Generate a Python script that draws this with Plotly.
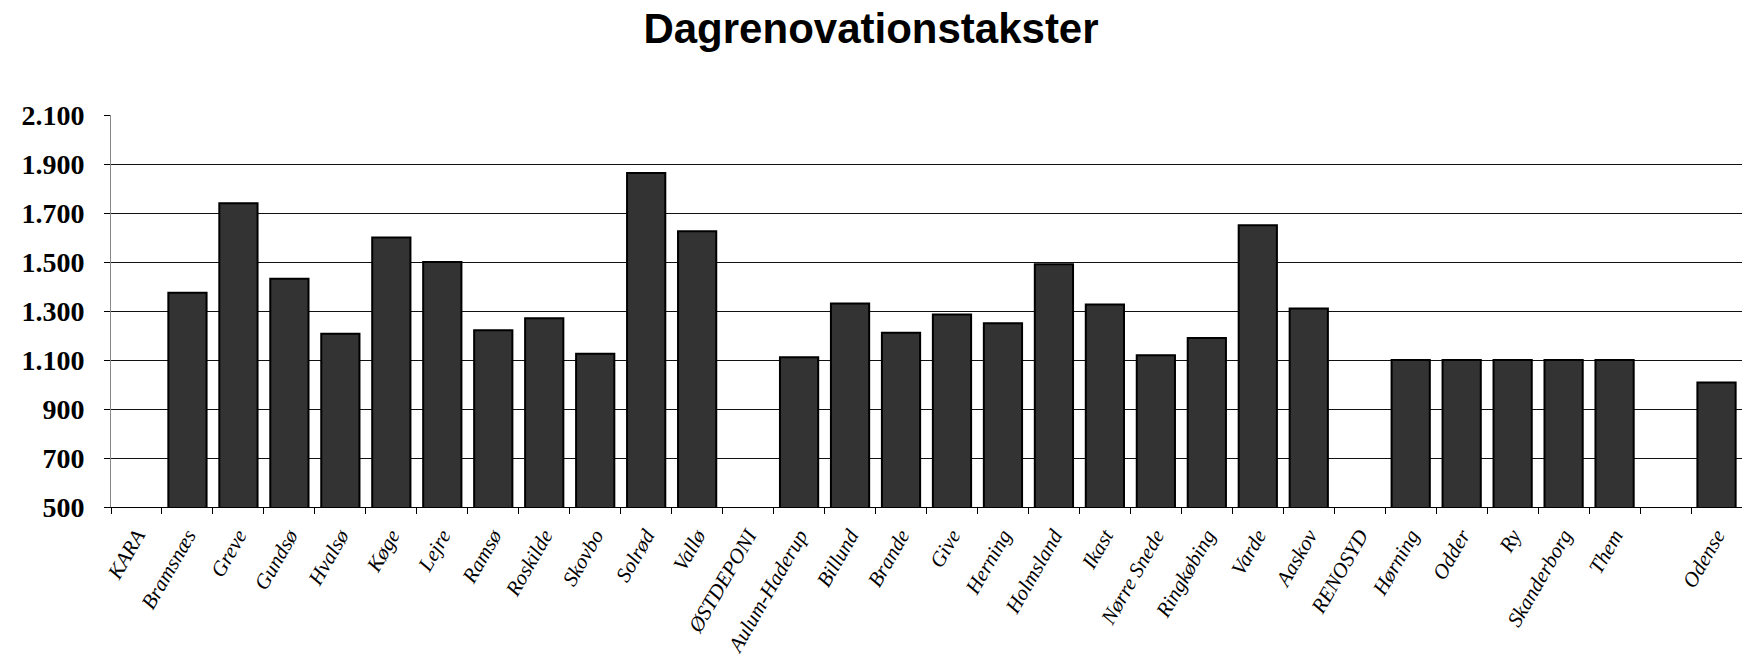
import plotly.graph_objects as go

# Renovation companies / municipalities (blank entry keeps the gap before Odense)
categories = [
    "KARA", "Bramsnæs", "Greve", "Gundsø", "Hvalsø", "Køge", "Lejre", "Ramsø",
    "Roskilde", "Skovbo", "Solrød", "Vallø", "ØSTDEPONI", "Aulum-Haderup",
    "Billund", "Brande", "Give", "Herning", "Holmsland", "Ikast", "Nørre Snede",
    "Ringkøbing", "Varde", "Aaskov", "RENOSYD", "Hørning", "Odder", "Ry",
    "Skanderborg", "Them", " ", "Odense",
]

# Tariffs (kr.) – None where no tariff is shown
takster = [
    None, 1374, 1740, 1432, 1207, 1600, 1500, 1221,
    1270, 1126, 1863, 1626, None, 1111,
    1331, 1211, 1286, 1250, 1491, 1327, 1119,
    1190, 1650, 1310, None, 1100, 1100, 1100,
    1100, 1100, None, 1008,
]

y_ticks = [500, 700, 900, 1100, 1300, 1500, 1700, 1900, 2100]

fig = go.Figure(
    go.Bar(
        x=categories,
        y=takster,
        marker=dict(color="#333333", line=dict(color="#000000", width=2)),
    )
)

fig.update_layout(
    width=1742,
    height=662,
    margin=dict(l=111, r=0, t=115, b=155),
    paper_bgcolor="white",
    plot_bgcolor="white",
    separators=",.",
    bargap=0.25,
    showlegend=False,
    title=dict(
        text="<b>Dagrenovationstakster</b>",
        x=0.5,
        xanchor="center",
        y=0.958,
        yanchor="middle",
        font=dict(family="Liberation Sans, Arial", size=42, color="#000"),
    ),
)

fig.update_xaxes(
    type="category",
    categoryorder="array",
    categoryarray=categories,
    tickangle=-60,
    tickfont=dict(family="Liberation Serif, Times New Roman", size=21, color="#000", style="italic"),
    ticks="outside",
    tickson="boundaries",
    ticklen=6,
    tickcolor="#000",
    ticklabelstandoff=7,
    automargin=False,
    showline=True,
    linecolor="#000",
    linewidth=1,
    showgrid=False,
)

fig.update_yaxes(
    range=[500, 2100],
    tickvals=y_ticks,
    tickformat=",d",
    tickfont=dict(family="Liberation Serif, Times New Roman", size=28, color="#000", weight="bold"),
    ticks="outside",
    ticklen=6,
    tickcolor="#000",
    ticklabelstandoff=14,
    automargin=False,
    showline=True,
    linecolor="#888",
    linewidth=1,
    showgrid=True,
    gridcolor="#111",
    gridwidth=1,
    zeroline=False,
)

fig.write_html("out.html")
